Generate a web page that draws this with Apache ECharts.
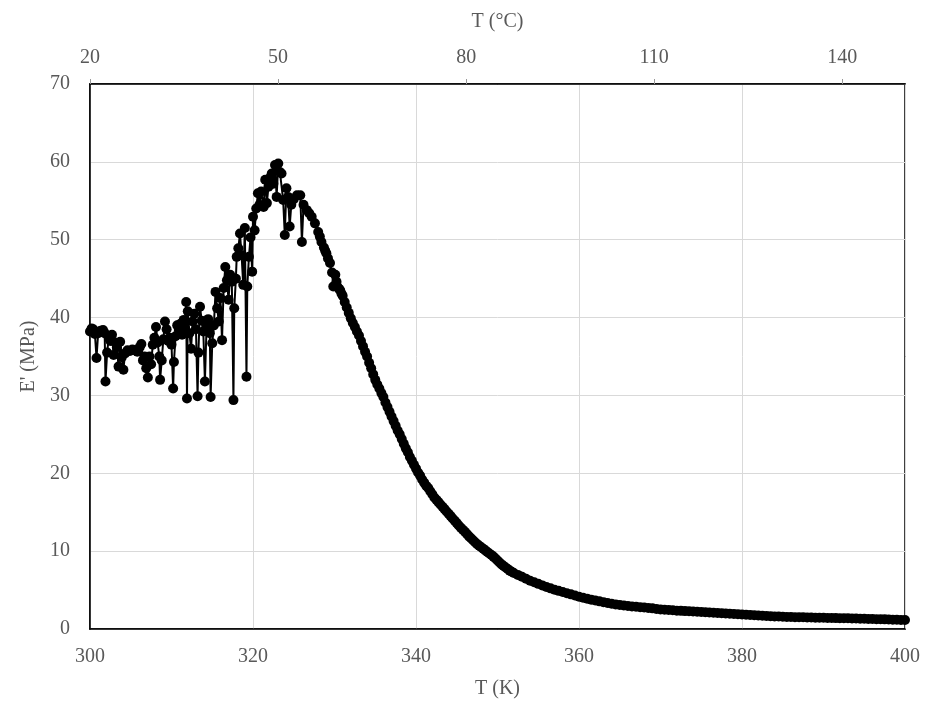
<!DOCTYPE html>
<html>
<head>
<meta charset="utf-8">
<script src="https://cdn.jsdelivr.net/npm/echarts@6/dist/echarts.min.js"></script>
<style>html,body{margin:0;padding:0;background:#fff}#c{width:926px;height:706px}</style>
</head>
<body>
<div id="c"></div>
<script>
// Segment 1: noisy region / peak (T in K, E' in MPa)
const tempK_noisy = [
300.0,300.2,300.4,300.6,300.8,301.0,301.3,301.6,301.8,301.9,302.1,302.3,302.5,302.7,302.9,303.1,303.3,303.5,303.7,303.9,
304.1,304.3,304.6,304.9,305.2,305.5,305.8,306.1,306.3,306.5,306.7,306.9,307.1,307.3,307.5,307.7,307.9,308.1,308.3,308.5,
308.6,308.8,309.0,309.2,309.4,309.6,309.8,310.0,310.2,310.3,310.5,310.7,310.9,311.1,311.3,311.5,311.7,311.8,311.9,312.0,
312.2,312.4,312.6,312.8,313.0,313.2,313.3,313.5,313.7,313.9,314.1,314.3,314.5,314.7,314.8,315.0,315.2,315.4,315.6,315.8,
316.0,316.2,316.4,316.6,316.8,317.0,317.2,317.4,317.6,317.7,317.9,318.0,318.2,318.4,318.6,318.8,319.0,319.2,319.3,319.5,
319.7,319.9,320.0,320.2,320.4,320.6,320.8,321.0,321.3,321.5,321.7,321.9,322.1,322.3,322.5,322.7,322.9,323.1,323.3,323.5,
323.7,323.9,324.1,324.3,324.5,324.7,325.0,325.4,325.8,326.0,326.2,326.6,326.9,327.2,327.6,328.0,328.2,328.4,328.7,328.85,
329.0,329.2,329.45,329.7,329.85,330.1,330.25,330.4,330.55,330.7,330.85
];
const modulus_noisy = [
38.2,38.6,38.5,37.9,34.8,38.0,38.3,38.4,38.0,31.8,35.5,37.4,37.0,37.8,35.2,36.8,36.2,33.7,36.9,34.9,
33.3,35.4,35.8,35.7,35.9,35.8,35.6,36.2,36.6,34.5,35.0,33.5,32.3,35.0,34.0,36.5,37.4,38.8,36.8,35.0,
32.0,34.5,37.2,39.5,38.5,37.0,37.4,36.5,30.9,34.3,37.6,39.0,38.4,39.2,37.8,39.7,38.5,42.0,29.6,40.8,
38.0,36.0,39.5,40.5,38.5,29.9,35.5,41.4,39.6,38.2,31.8,38.8,39.8,38.0,29.8,36.7,39.0,43.3,41.2,39.5,
42.5,37.1,43.8,46.5,44.8,42.3,45.5,44.6,29.4,41.2,45.0,47.8,48.9,50.8,48.0,44.2,51.5,32.4,44.0,47.8,
50.3,45.9,52.95,51.2,54.0,55.96,54.5,56.2,54.2,57.7,54.7,56.8,58.0,58.5,57.2,59.6,55.5,59.8,58.7,58.5,
55.1,50.6,56.6,55.5,51.7,54.5,55.2,55.7,55.7,49.7,54.5,53.8,53.4,52.95,52.1,51.0,50.4,49.7,49.0,48.6,
48.25,47.6,47.0,45.8,44.0,45.5,44.6,43.9,43.7,43.5,43.1
];
// Segment 2: steep decline
const tempK_decline = [
331.00,331.25,331.50,331.75,332.00,332.25,332.50,332.75,333.00,333.25,333.50,333.75,334.00,334.25,334.50,334.75,
335.00,335.25,335.50,335.75,336.00,336.25,336.50,336.75,337.00,337.25,337.50,337.75,338.00,338.25,338.50,338.75,
339.00,339.25,339.50,339.75,340.00,340.25,340.50,340.75,341.00,341.25,341.50,341.75,342.00,342.25,342.50,342.75,
343.00,343.25,343.50,343.75,344.00,344.25,344.50,344.75,345.00,345.25,345.50,345.75,346.00,346.25,346.50,346.75,
347.00,347.25,347.50,347.75,348.00,348.25,348.50,348.75,349.00,349.25,349.50,349.75,350.00,350.25,350.50,350.75,
351.00,351.25,351.50,351.75
];
const modulus_decline = [
42.8,42.0,41.3,40.6,39.9,39.3,38.8,38.2,37.7,37.0,36.3,35.6,35.0,34.2,33.5,32.7,
32.0,31.4,30.9,30.3,29.8,29.1,28.5,27.9,27.3,26.7,26.1,25.5,25.0,24.4,23.8,23.2,
22.7,22.1,21.6,21.1,20.6,20.1,19.7,19.2,18.8,18.4,18.1,17.7,17.3,16.9,16.6,16.3,
16.0,15.7,15.4,15.1,14.8,14.5,14.2,13.9,13.6,13.3,13.0,12.75,12.5,12.2,11.9,11.65,
11.4,11.15,10.9,10.7,10.5,10.3,10.1,9.9,9.7,9.5,9.3,9.05,8.8,8.55,8.3,8.1,
7.9,7.7,7.5,7.35
];
// Segment 3: tail
const tempK_tail = [
352.0,352.5,353.0,353.5,354.0,354.5,355.0,355.5,356.0,356.5,357.0,357.5,358.0,358.5,359.0,359.5,
360.0,360.5,361.0,361.5,362.0,362.5,363.0,363.5,364.0,364.5,365.0,365.5,366.0,366.5,367.0,367.5,
368.0,368.5,369.0,369.5,370.0,370.5,371.0,371.5,372.0,372.5,373.0,373.5,374.0,374.5,375.0,375.5,
376.0,376.5,377.0,377.5,378.0,378.5,379.0,379.5,380.0,380.5,381.0,381.5,382.0,382.5,383.0,383.5,
384.0,384.5,385.0,385.5,386.0,386.5,387.0,387.5,388.0,388.5,389.0,389.5,390.0,390.5,391.0,391.5,
392.0,392.5,393.0,393.5,394.0,394.5,395.0,395.5,396.0,396.5,397.0,397.5,398.0,398.5,399.0,399.5,400.0
];
const modulus_tail = [
7.2,6.95,6.7,6.45,6.2,6.0,5.8,5.6,5.4,5.22,5.05,4.9,4.75,4.6,4.45,4.3,
4.15,4.02,3.9,3.77,3.65,3.55,3.45,3.35,3.25,3.16,3.08,3.01,2.95,2.9,2.85,2.8,
2.75,2.7,2.65,2.58,2.52,2.47,2.43,2.4,2.36,2.33,2.3,2.27,2.24,2.21,2.18,2.15,
2.12,2.09,2.06,2.03,2.0,1.96,1.93,1.9,1.86,1.83,1.8,1.77,1.74,1.71,1.68,1.65,
1.62,1.6,1.57,1.55,1.54,1.52,1.51,1.5,1.48,1.47,1.46,1.45,1.44,1.42,1.41,1.4,
1.39,1.38,1.37,1.35,1.34,1.32,1.31,1.3,1.28,1.26,1.25,1.24,1.22,1.2,1.19,1.17,1.16
];
const kelvinTicks = {min: 300, max: 400, step: 20};
const celsiusTicks = {min: 20, max: 150, step: 30};
const modulusTicks = {min: 0, max: 70, step: 10};

const tempK = tempK_noisy.concat(tempK_decline, tempK_tail);
const modulusMPa = modulus_noisy.concat(modulus_decline, modulus_tail);

const FONT = 'Liberation Serif';
const GREY = '#595959';
const pts = tempK.map((t, i) => [t, modulusMPa[i]]);

const chart = echarts.init(document.getElementById('c'), null, {renderer: 'canvas'});
chart.setOption({
  animation: false,
  backgroundColor: '#fff',
  grid: {left: 90, right: 21, top: 84, bottom: 77, show: true, borderColor: '#000', borderWidth: 1.5, backgroundColor: 'transparent'},
  xAxis: [
    {
      type: 'value', position: 'bottom', min: kelvinTicks.min, max: kelvinTicks.max, interval: kelvinTicks.step,
      name: 'T (K)', nameLocation: 'middle', nameGap: 50,
      nameTextStyle: {fontFamily: FONT, fontSize: 20, color: GREY},
      axisLine: {show: true, onZero: false, lineStyle: {color: '#000', width: 1.5}},
      axisTick: {show: false},
      axisLabel: {fontFamily: FONT, fontSize: 20, color: GREY, margin: 18},
      splitLine: {show: true, lineStyle: {color: '#d9d9d9', width: 1}}
    },
    {
      type: 'value', position: 'top', min: celsiusTicks.min, max: celsiusTicks.max, interval: celsiusTicks.step,
      name: 'T (°C)', nameLocation: 'middle', nameGap: 52,
      nameTextStyle: {fontFamily: FONT, fontSize: 20, color: GREY},
      axisLine: {show: true, onZero: false, lineStyle: {color: '#000', width: 1.5}},
      axisTick: {show: true, inside: false, length: 5, lineStyle: {color: '#999'}},
      axisLabel: {fontFamily: FONT, fontSize: 20, color: GREY, margin: 16, showMaxLabel: false,
        formatter: v => (v === celsiusTicks.max ? '' : String(v))},
      splitLine: {show: false}
    }
  ],
  yAxis: {
    type: 'value', min: modulusTicks.min, max: modulusTicks.max, interval: modulusTicks.step,
    name: "E' (MPa)", nameLocation: 'middle', nameGap: 50,
    nameTextStyle: {fontFamily: FONT, fontSize: 20, color: GREY},
    axisLine: {show: true, lineStyle: {color: '#000', width: 1.5}},
    axisTick: {show: false},
    axisLabel: {fontFamily: FONT, fontSize: 20, color: GREY, margin: 20},
    splitLine: {show: true, lineStyle: {color: '#d9d9d9', width: 1}}
  },
  series: [{
    type: 'line', xAxisIndex: 0, yAxisIndex: 0, data: pts,
    symbol: 'circle', symbolSize: 10, showSymbol: true, showAllSymbol: true,
    itemStyle: {color: '#000'}, lineStyle: {color: '#000', width: 2},
    silent: true
  }]
});
</script>
</body>
</html>
